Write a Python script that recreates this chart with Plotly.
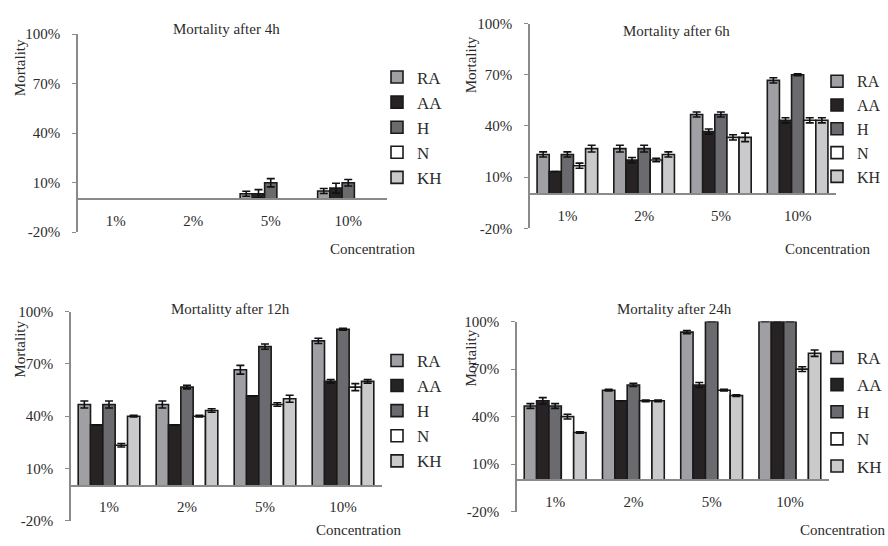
import plotly.graph_objects as go

categories = ["1%", "2%", "5%", "10%"]
series_names = ["RA", "AA", "H", "N", "KH"]
series_colors = ["#a09fa4", "#272324", "#6b6a6e", "#ffffff", "#cacacd"]

panel_titles = ["Mortality after 4h", "Mortality after 6h", "Mortalitty after 12h", "Mortality after 24h"]

# values (%) per panel, per series
vals_4h = {"RA": [0, 0, 3.3, 5], "AA": [0, 0, 3.3, 6.7], "H": [0, 0, 10, 10], "N": [0, 0, 0, 0], "KH": [0, 0, 0, 0]}
err_4h = {"RA": [0, 0, 1.5, 1.5], "AA": [0, 0, 2.5, 3], "H": [0, 0, 2.5, 2], "N": [0, 0, 0, 0], "KH": [0, 0, 0, 0]}

vals_6h = {"RA": [23.3, 26.7, 46.7, 66.7], "AA": [13.3, 20, 36.7, 43.3], "H": [23.3, 26.7, 46.7, 70],
           "N": [16.7, 20, 33.3, 43.3], "KH": [26.7, 23.3, 33.3, 43.3]}
err_6h = {"RA": [1.5, 2, 1.5, 1.5], "AA": [0, 1.5, 1.5, 1.5], "H": [1.5, 2, 1.5, 0.5],
          "N": [1.5, 1, 1.5, 1.5], "KH": [2, 1.5, 2.5, 1.5]}

vals_12h = {"RA": [46.7, 46.7, 66.7, 83.3], "AA": [35, 35, 51.7, 60], "H": [46.7, 56.7, 80, 90],
            "N": [23.3, 40, 46.7, 56.7], "KH": [40, 43.3, 50, 60]}
err_12h = {"RA": [2, 2, 2.5, 1.5], "AA": [0, 0, 0, 1], "H": [2, 1, 1.5, 0.5],
           "N": [1, 0.5, 1, 2], "KH": [0.5, 1, 2, 1]}

vals_24h = {"RA": [46.7, 56.7, 93.3, 100], "AA": [50, 50, 60, 100], "H": [46.7, 60, 100, 100],
            "N": [40, 50, 56.7, 70], "KH": [30, 50, 53.3, 80]}
err_24h = {"RA": [1.5, 0.5, 1, 0], "AA": [2, 0, 1.5, 0], "H": [1.5, 1, 0, 0],
           "N": [1.5, 0.5, 0.5, 1.5], "KH": [0.5, 0.5, 0.5, 2]}

y_tick_vals = [-20, 10, 40, 70, 100]
y_tick_text = ["-20%", "10%", "40%", "70%", "100%"]

W, H = 888, 546
panels = [
    dict(vals=vals_4h, errs=err_4h, x0=77, x1=387, yt=27, yb=231,
         title=(226, 22), ytitle=(20, 62), ctitle=(372, 248), leg=(377, 53), gap=0, lfs=17),
    dict(vals=vals_6h, errs=err_6h, x0=529, x1=836, yt=16, yb=227,
         title=(676, 24), ytitle=(471, 58), ctitle=(827, 248), leg=(817, 58), gap=0, lfs=16),
    dict(vals=vals_12h, errs=err_12h, x0=70, x1=382, yt=313, yb=528,
         title=(230, 310), ytitle=(20, 352), ctitle=(358, 538), leg=(377, 345), gap=0, lfs=17),
    dict(vals=vals_24h, errs=err_24h, x0=516, x1=829, yt=323, yb=519,
         title=(674, 310), ytitle=(471, 360), ctitle=(842, 538), leg=(817, 342), gap=2, lfs=17),
]

SERIF = "Liberation Serif, Times New Roman, serif"
AX = "#8a8a8a"
TXT = "#2b2b2b"

fig = go.Figure()
layout = dict(width=W, height=H, margin=dict(l=0, r=0, t=0, b=0),
              paper_bgcolor="white", plot_bgcolor="white",
              barmode="group", bargap=0.21, bargroupgap=0, showlegend=True,
              annotations=[])

for i, p in enumerate(panels):
    k = "" if i == 0 else str(i + 1)
    legname = "legend" + k
    for s, c in zip(series_names, series_colors):
        yv = [v if v else None for v in p["vals"][s]]
        fig.add_trace(go.Bar(
            x=categories, y=yv, name=s,
            xaxis="x" + k, yaxis="y" + k, legend=legname,
            legendgroup=f"{s}{i}",
            marker=dict(color=c, line=dict(color="#1a1a1a", width=1.6)),
            error_y=dict(type="data", array=p["errs"][s], color="#111111", thickness=1.6, width=4),
        ))
    ydom = [1 - p["yb"] / H, 1 - p["yt"] / H]
    xdom = [p["x0"] / W, p["x1"] / W]
    zero_px = p["yb"] - (p["yb"] - p["yt"]) * (0 - (-20)) / 120
    layout["xaxis" + k] = dict(domain=xdom, anchor="free", position=1 - zero_px / H,
                               type="category", range=[-0.5, 3.5],
                               showline=True, linecolor=AX, linewidth=1.5,
                               showgrid=False, zeroline=False, ticks="",
                               ticklabelstandoff=8,
                               tickfont=dict(family=SERIF, size=15, color=TXT))
    layout["yaxis" + k] = dict(domain=ydom, anchor="free", position=xdom[0],
                               range=[-20, 100], tickvals=y_tick_vals, ticktext=y_tick_text,
                               showline=True, linecolor=AX, linewidth=1.5,
                               ticks="outside", ticklen=4, tickcolor=AX, tickwidth=1.2,
                               ticklabelstandoff=9,
                               showgrid=False, zeroline=False,
                               tickfont=dict(family=SERIF, size=15, color=TXT))
    layout[legname] = dict(x=p["leg"][0] / W, y=1 - p["leg"][1] / H,
                           xanchor="left", yanchor="top",
                           bgcolor="rgba(0,0,0,0)", tracegroupgap=p["gap"],
                           itemwidth=30,
                           font=dict(family=SERIF, size=p["lfs"], color=TXT))
    layout["annotations"] += [
        dict(text=panel_titles[i], x=p["title"][0] / W, y=1 - p["title"][1] / H,
             xref="paper", yref="paper", showarrow=False, xanchor="center", yanchor="middle",
             font=dict(family=SERIF, size=15, color=TXT)),
        dict(text="Mortality", x=p["ytitle"][0] / W, y=1 - p["ytitle"][1] / H,
             xref="paper", yref="paper", showarrow=False, textangle=-90,
             xanchor="center", yanchor="middle",
             font=dict(family=SERIF, size=15, color=TXT)),
        dict(text="Concentration", x=p["ctitle"][0] / W, y=1 - p["ctitle"][1] / H,
             xref="paper", yref="paper", showarrow=False, xanchor="center", yanchor="middle",
             font=dict(family=SERIF, size=15, color=TXT)),
    ]

fig.update_layout(**layout)
fig.write_html("out.html", config={"displayModeBar": False},
               post_script="document.body.style.margin='0';document.body.style.overflow='hidden';")
